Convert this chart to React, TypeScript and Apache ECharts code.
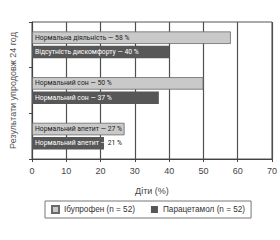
import React, { useEffect, useRef } from "react";
import * as echarts from "echarts";

const categories = ["Діяльність", "Сон", "Апетит"];
const ibuprofenValues = [58, 50, 27];
const paracetamolValues = [40, 37, 21];
const ibuprofenLabels = ["Нормальна діяльність", "Нормальний сон", "Нормальний апетит"];
const paracetamolLabels = ["Відсутність дискомфорту", "Нормальний сон", "Нормальний апетит"];
const seriesNames = ["Ібупрофен (n = 52)", "Парацетамол (n = 52)"];
const xTicks = [0, 10, 20, 30, 40, 50, 60, 70];
const xAxisName = "Діти (%)";
const yAxisName = "Результати упродовж 24 год";

const FONT = "Liberation Sans, Arial, sans-serif";
const LFONT = "Roboto, Liberation Sans, sans-serif";
const LBL = 6.8;

export default function App() {
  const ref = useRef<HTMLDivElement>(null);
  useEffect(() => {
    if (!ref.current) return;
    const chart = echarts.init(ref.current, null, { renderer: "svg" });
    chart.setOption({
      animation: false,
      textStyle: { fontFamily: FONT },
      grid: {
        left: 25,
        right: 5,
        top: 22,
        bottom: 81,
        show: true,
        borderColor: "#555",
        borderWidth: 1,
      },
      legend: {
        left: 45,
        top: 201,
        data: seriesNames,
        icon: "rect",
        itemWidth: 7,
        itemHeight: 7,
        itemGap: 16,
        padding: [4, 6, 4, 6],
        borderColor: "#777",
        borderWidth: 1,
        textStyle: { fontSize: 8.2, color: "#333", fontFamily: FONT },
      },
      xAxis: {
        type: "value",
        min: 0,
        max: 70,
        interval: 10,
        name: xAxisName,
        nameLocation: "middle",
        nameGap: 27,
        nameTextStyle: { fontSize: 9, color: "#444", fontFamily: FONT },
        axisLine: { show: true, lineStyle: { color: "#444" } },
        axisTick: { show: true, length: 3, lineStyle: { color: "#444" } },
        axisLabel: {
          fontSize: 9,
          color: "#444",
          margin: 7,
          formatter: (v: number) => (xTicks.includes(v) ? String(v) : ""),
        },
        splitLine: { show: true, lineStyle: { color: "#505050", width: 1.2 } },
      },
      yAxis: {
        type: "category",
        data: categories,
        inverse: true,
        name: yAxisName,
        nameLocation: "middle",
        nameGap: 15,
        nameRotate: 90,
        nameTextStyle: { fontSize: 9, color: "#555", fontFamily: FONT },
        axisLine: { show: true, lineStyle: { color: "#444" } },
        axisTick: { show: true, length: 3, lineStyle: { color: "#444" } },
        axisLabel: { show: false },
      },
      series: [
        {
          name: seriesNames[0],
          type: "bar",
          barWidth: 12.5,
          barGap: "14%",
          data: ibuprofenValues,
          itemStyle: { color: "#c9c9c9", borderColor: "#6a6a6a", borderWidth: 0.8 },
          label: {
            show: true,
            position: "insideLeft",
            distance: 3,
            fontSize: LBL,
            color: "#222",
            fontFamily: LFONT,
            formatter: (p: any) => `${ibuprofenLabels[p.dataIndex]} — ${p.value} %`,
          },
        },
        {
          name: seriesNames[1],
          type: "bar",
          barWidth: 12.5,
          data: paracetamolValues,
          itemStyle: { color: "#575757" },
          label: {
            show: true,
            position: "insideLeft",
            distance: 3,
            fontSize: LBL,
            color: "#fff",
            fontFamily: LFONT,
            formatter: (p: any) =>
              p.value < 25
                ? `{w|${paracetamolLabels[p.dataIndex]} —}{d| ${p.value} %}`
                : `${paracetamolLabels[p.dataIndex]} — ${p.value} %`,
            rich: {
              w: { color: "#fff", fontSize: LBL, fontFamily: LFONT },
              d: { color: "#222", fontSize: LBL, fontFamily: LFONT },
            },
          },
        },
      ],
    });
    return () => chart.dispose();
  }, []);
  return (
    <div
      ref={ref}
      style={{ position: "fixed", left: 0, top: 0, width: 280, height: 240, background: "#fff" }}
    />
  );
}
